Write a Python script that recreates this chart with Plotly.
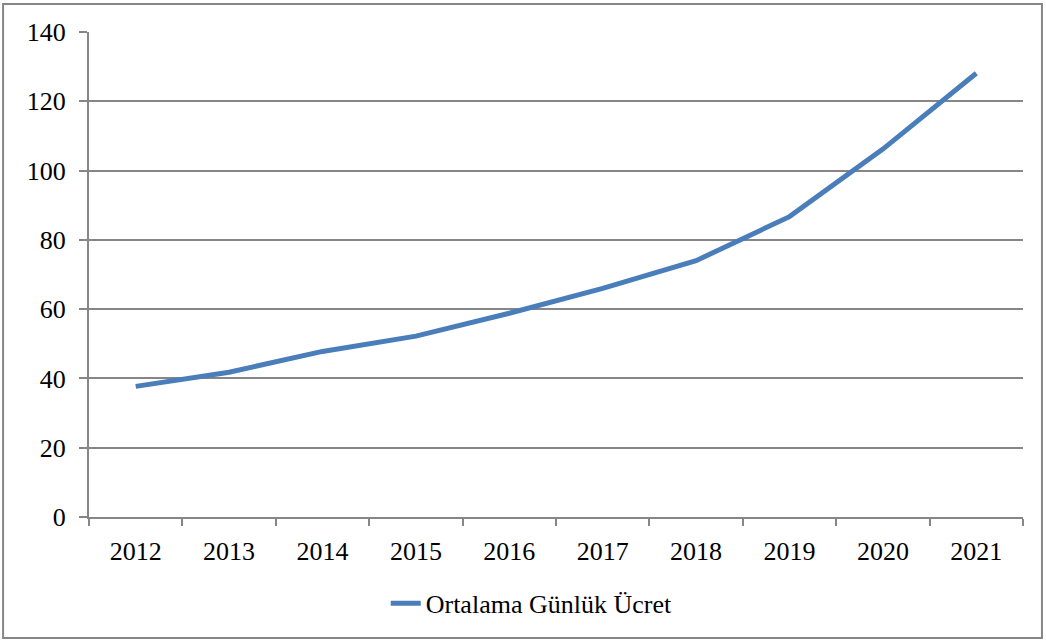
import plotly.graph_objects as go

years = ["2012", "2013", "2014", "2015", "2016", "2017", "2018", "2019", "2020", "2021"]
ortalama_ucret = [37.7, 41.8, 47.8, 52.2, 58.8, 66.0, 74.0, 86.7, 106.2, 128.1]
y_ticks = [0, 20, 40, 60, 80, 100, 120, 140]

grid_color = "#868686"

fig = go.Figure(go.Scatter(
    x=years,
    y=ortalama_ucret,
    mode="lines",
    name="Ortalama Günlük Ücret",
    line=dict(color="#4A7EBB", width=5),
))

fig.update_layout(
    width=1046,
    height=643,
    margin=dict(l=89, r=23, t=32, b=126, autoexpand=False),
    paper_bgcolor="white",
    plot_bgcolor="white",
    font=dict(family="Liberation Serif, Times New Roman, serif", size=26, color="black"),
    showlegend=True,
    legend=dict(
        orientation="h",
        x=0.474, xanchor="center",
        y=-0.178, yanchor="middle",
        font=dict(size=26),
    ),
    shapes=[dict(
        type="rect", xref="paper", yref="paper",
        x0=-0.092, x1=1.0203, y0=-0.2495, y1=1.0577,
        line=dict(color=grid_color, width=2),
    )],
)

fig.update_xaxes(
    type="category",
    range=[-0.5, len(years) - 0.5],
    tickson="boundaries",
    ticks="outside",
    ticklen=7,
    tickwidth=2,
    tickcolor=grid_color,
    showline=True,
    linecolor=grid_color,
    linewidth=2,
    showgrid=False,
    ticklabelstandoff=10,
    automargin=False,
)

fig.update_yaxes(
    range=[0, 140],
    tickvals=y_ticks,
    ticks="outside",
    ticklen=8,
    tickwidth=2,
    tickcolor=grid_color,
    showline=True,
    linecolor=grid_color,
    linewidth=2,
    showgrid=True,
    gridcolor=grid_color,
    gridwidth=2,
    zeroline=False,
    ticklabelstandoff=8,
    automargin=False,
)

# the page's default body margin would push the figure 8px off the window
fig.write_html(
    "out.html",
    config={"displayModeBar": False},
    post_script="document.body.style.margin='0';",
)
